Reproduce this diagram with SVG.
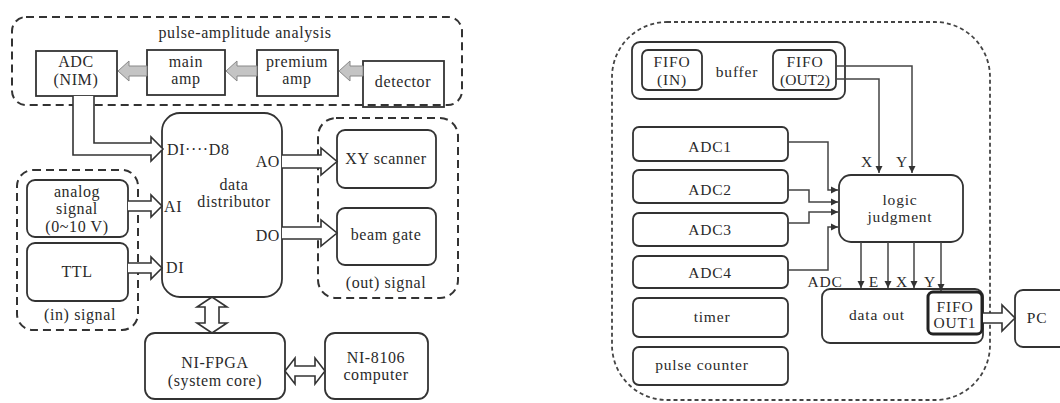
<svg xmlns="http://www.w3.org/2000/svg" width="1060" height="403" viewBox="0 0 1060 403">
  <style>
    text { font-family: "Liberation Serif", "Times New Roman", serif; fill: #2a2a2a; text-anchor: middle; }
    .l { font-size: 16px; letter-spacing: 0.6px; }
    .r { font-size: 15.5px; letter-spacing: 0.8px; }
    .st { text-anchor: start; }
    .en { text-anchor: end; }
    .box { fill: #fff; stroke: #333; stroke-width: 1.8; }
    .grp { fill: none; stroke: #333; stroke-width: 2; stroke-dasharray: 8 5; }
    .grp2 { fill: none; stroke: #444; stroke-width: 1.8; stroke-dasharray: 4 3; }
    .hollow { fill: #fff; stroke: #333; stroke-width: 1.6; stroke-linejoin: miter; }
    .gray { fill: #c4c4c4; stroke: #888; stroke-width: 1; }
    .wire { fill: none; stroke: #444; stroke-width: 1.5; }
  </style>
  <defs>
    <marker id="tip" viewBox="0 0 8 8" refX="8" refY="4" markerWidth="5" markerHeight="5" orient="auto">
      <path d="M0,0 L8,4 L0,8 z" fill="#333"/>
    </marker>
  </defs>

  <!-- ===== left: acquisition system ===== -->
  <g id="group-pulse-amplitude">
    <rect class="grp" x="12" y="17" width="450" height="88" rx="14"/>
    <text class="l" x="245" y="38">pulse-amplitude analysis</text>
  </g>
  <g id="group-in-signal">
    <rect class="grp" x="17" y="170" width="121" height="160" rx="16"/>
    <text class="l" x="80" y="320">(in) signal</text>
  </g>
  <g id="group-out-signal">
    <rect class="grp" x="318" y="118" width="140" height="180" rx="18"/>
    <text class="l" x="386" y="288">(out) signal</text>
  </g>

  <g id="node-adc-nim">
    <rect class="box" x="36" y="51" width="81" height="45"/>
    <text class="l" x="76" y="67">ADC</text>
    <text class="l" x="76" y="85">(NIM)</text>
  </g>
  <g id="node-main-amp">
    <rect class="box" x="147" y="50" width="78" height="45"/>
    <text class="l" x="186" y="67">main</text>
    <text class="l" x="186" y="84">amp</text>
  </g>
  <g id="node-premium-amp">
    <rect class="box" x="257" y="50" width="81" height="46"/>
    <text class="l" x="297" y="67">premium</text>
    <text class="l" x="297" y="84">amp</text>
  </g>
  <g id="node-detector">
    <rect class="box" x="363" y="61" width="81" height="46" fill-opacity="0"/>
    <text class="l" x="403" y="87">detector</text>
  </g>
  <g id="node-data-distributor">
    <rect class="box" x="162" y="113" width="120" height="184" rx="18"/>
    <text class="l st" x="167" y="155">DI····D8</text>
    <text class="l en" x="280" y="167">AO</text>
    <text class="l" x="234" y="190">data</text>
    <text class="l" x="234" y="207">distributor</text>
    <text class="l st" x="164" y="212">AI</text>
    <text class="l en" x="280" y="241">DO</text>
    <text class="l st" x="166" y="273">DI</text>
  </g>
  <g id="node-analog-signal">
    <rect class="box" x="27" y="180" width="101" height="57" rx="8"/>
    <text class="l" x="77" y="197">analog</text>
    <text class="l" x="77" y="214">signal</text>
    <text class="l" x="77" y="232">(0~10 V)</text>
  </g>
  <g id="node-ttl">
    <rect class="box" x="27" y="243" width="101" height="58" rx="8"/>
    <text class="l" x="77" y="277">TTL</text>
  </g>
  <g id="node-xy-scanner">
    <rect class="box" x="337" y="130" width="99" height="58" rx="8"/>
    <text class="l" x="386" y="164">XY scanner</text>
  </g>
  <g id="node-beam-gate">
    <rect class="box" x="337" y="208" width="99" height="57" rx="8"/>
    <text class="l" x="386" y="240">beam gate</text>
  </g>
  <g id="node-ni-fpga">
    <rect class="box" x="145" y="333" width="140" height="66" rx="10"/>
    <text class="l" x="215" y="368">NI-FPGA</text>
    <text class="l" x="215" y="386">(system core)</text>
  </g>
  <g id="node-ni-8106">
    <rect class="box" x="325" y="333" width="103" height="66" rx="10"/>
    <text class="l" x="376" y="363">NI-8106</text>
    <text class="l" x="376" y="380">computer</text>
  </g>

  <g id="connectors-left">
    <!-- analogue pulse chain (shaded arrows) -->
    <path class="gray" d="M363,66 H350 V61 L339,71 L350,81 V76 H363 z"/>
    <path class="gray" d="M257,66 H237 V61 L226,71 L237,81 V76 H257 z"/>
    <path class="gray" d="M147,66 H129 V61 L118,71 L129,81 V76 H147 z"/>
    <!-- bus arrows -->
    <path class="hollow" d="M73,96 V155 H151 V161 L163,149 L151,137 V143 H94 V96"/>
    <path class="hollow" d="M128,201 H151 V195 L162,206 L151,217 V211 H128"/>
    <path class="hollow" d="M128,263 H151 V257 L162,268 L151,279 V273 H128"/>
    <path class="hollow" d="M282,155 H321 V148 L337,161.5 L321,175 V168 H282"/>
    <path class="hollow" d="M282,227 H321 V220 L337,233 L321,246 V239 H282"/>
    <path class="hollow" d="M205,307 H197 L212,297 L227,307 H219 V323 H227 L212,333 L197,323 H205 z"/>
    <path class="hollow" d="M295,366 V358 L285,371 L295,384 V376 H315 V384 L325,371 L315,358 V366 z"/>
  </g>

  <!-- ===== right: FPGA firmware ===== -->
  <g id="group-fpga">
    <rect class="grp2" x="612" y="22" width="378" height="378" rx="55"/>
  </g>
  <g id="node-buffer">
    <rect class="box" x="632" y="42" width="213" height="57" rx="8"/>
    <text class="r" x="737" y="77">buffer</text>
  </g>
  <g id="node-fifo-in">
    <rect class="box" x="642" y="50" width="60" height="40" rx="6"/>
    <text class="r" x="672" y="67">FIFO</text>
    <text class="r" x="672" y="85">(IN)</text>
  </g>
  <g id="node-fifo-out2">
    <rect class="box" x="773" y="50" width="63" height="40" rx="6"/>
    <text class="r" x="805" y="67">FIFO</text>
    <text class="r" x="805" y="85" style="letter-spacing:0">(OUT2)</text>
  </g>
  <g id="node-adc1">
    <rect class="box" x="633" y="127" width="155" height="34" rx="6"/>
    <text class="r" x="710" y="152">ADC1</text>
  </g>
  <g id="node-adc2">
    <rect class="box" x="633" y="170" width="155" height="33" rx="6"/>
    <text class="r" x="710" y="195">ADC2</text>
  </g>
  <g id="node-adc3">
    <rect class="box" x="633" y="213" width="155" height="33" rx="6"/>
    <text class="r" x="710" y="235">ADC3</text>
  </g>
  <g id="node-adc4">
    <rect class="box" x="633" y="256" width="155" height="32" rx="6"/>
    <text class="r" x="710" y="278">ADC4</text>
  </g>
  <g id="node-timer">
    <rect class="box" x="633" y="298" width="155" height="39" rx="6"/>
    <text class="r" x="712" y="322">timer</text>
  </g>
  <g id="node-pulse-counter">
    <rect class="box" x="633" y="347" width="155" height="38" rx="6"/>
    <text class="r" x="702" y="370">pulse counter</text>
  </g>
  <g id="node-logic-judgment">
    <rect class="box" x="839" y="175" width="124" height="67" rx="12"/>
    <text class="r" x="900" y="205">logic</text>
    <text class="r" x="900" y="222">judgment</text>
  </g>
  <g id="node-data-out">
    <rect class="box" x="822" y="289" width="161" height="54" rx="8"/>
    <text class="r" x="877" y="320">data out</text>
  </g>
  <g id="node-fifo-out1">
    <rect x="928" y="292" width="54" height="42" rx="5" fill="#fff" stroke="#222" stroke-width="3"/>
    <rect x="931" y="295" width="48" height="36" rx="3" fill="none" stroke="#fff" stroke-width="1"/>
    <text class="r" x="955" y="312">FIFO</text>
    <text class="r" x="955" y="328">OUT1</text>
  </g>
  <g id="node-pc">
    <rect class="box" x="1015" y="290" width="60" height="57" rx="8"/>
    <text class="r" x="1037" y="323">PC</text>
  </g>

  <g id="connectors-right">
    <polyline class="wire" points="836,66 912,66 912,173" marker-end="url(#tip)"/>
    <polyline class="wire" points="836,79 879,79 879,173" marker-end="url(#tip)"/>
    <text class="r" x="867" y="167">X</text>
    <text class="r" x="902" y="167">Y</text>

    <polyline class="wire" points="788,142 828,142 828,190 838,190" marker-end="url(#tip)"/>
    <polyline class="wire" points="788,190 809,190 809,202 838,202" marker-end="url(#tip)"/>
    <polyline class="wire" points="788,223 809,223 809,212 838,212" marker-end="url(#tip)"/>
    <polyline class="wire" points="788,270 828,270 828,227 838,227" marker-end="url(#tip)"/>

    <line class="wire" x1="861" y1="242" x2="861" y2="288" marker-end="url(#tip)"/>
    <line class="wire" x1="888" y1="242" x2="888" y2="288" marker-end="url(#tip)"/>
    <line class="wire" x1="914" y1="242" x2="914" y2="288" marker-end="url(#tip)"/>
    <line class="wire" x1="941" y1="242" x2="941" y2="291" marker-end="url(#tip)"/>
    <text class="r" x="825" y="287">ADC</text>
    <text class="r" x="874" y="287">E</text>
    <text class="r" x="902" y="287">X</text>
    <text class="r" x="930" y="287">Y</text>

    <path class="hollow" d="M983,313 H1002 V305 L1015,318 L1002,331 V323 H983"/>
  </g>
</svg>
